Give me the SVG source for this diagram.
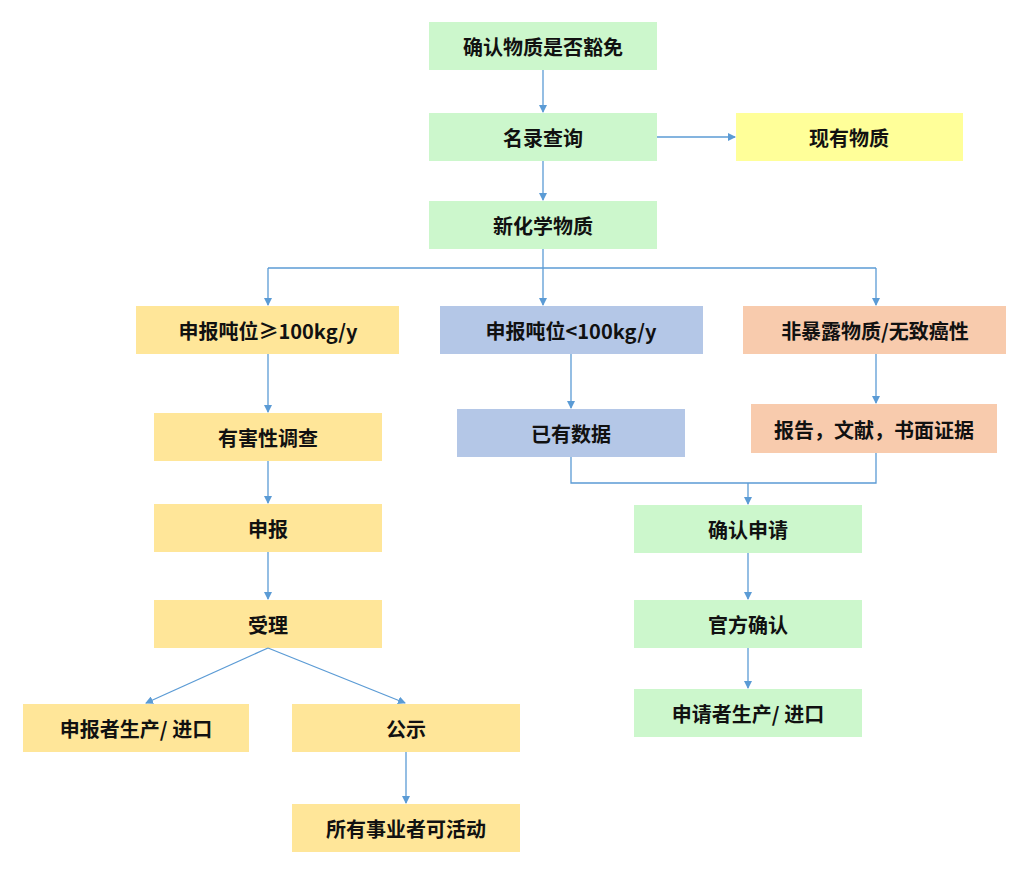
<svg xmlns="http://www.w3.org/2000/svg" width="1024" height="878" viewBox="0 0 1024 878">
<style>
text{font-family:"Noto Sans CJK SC","Noto Sans",sans-serif;font-size:20px;font-weight:bold;fill:#111;text-anchor:middle;dominant-baseline:central}
.g{fill:#ccf7cc}.y{fill:#ffff99}.o{fill:#ffe699}.b{fill:#b4c7e7}.p{fill:#f8cbad}
.c path{fill:none;stroke:#5b9bd5;stroke-width:1.3}
</style>
<defs><marker id="a" markerWidth="8" markerHeight="8" refX="7" refY="4" orient="auto" markerUnits="userSpaceOnUse"><path d="M0,0L8,4L0,8z" fill="#5b9bd5"/></marker></defs>
<rect width="1024" height="878" fill="#fff"/>
<g id="n1"><rect class="g" x="429" y="22" width="228" height="48"/><text x="543" y="46">确认物质是否豁免</text></g>
<g id="n2"><rect class="g" x="429" y="113" width="228" height="48"/><text x="543" y="137">名录查询</text></g>
<g id="n3"><rect class="y" x="736" y="113" width="227" height="48"/><text x="849" y="137">现有物质</text></g>
<g id="n4"><rect class="g" x="429" y="201" width="228" height="48"/><text x="543" y="225">新化学物质</text></g>
<g id="n5"><rect class="o" x="136" y="306" width="263" height="48"/><text x="268" y="330">申报吨位≥100kg/y</text></g>
<g id="n6"><rect class="b" x="440" y="306" width="263" height="48"/><text x="571" y="330">申报吨位&lt;100kg/y</text></g>
<g id="n7"><rect class="p" x="743" y="306" width="263" height="48"/><text x="875" y="330">非暴露物质/无致癌性</text></g>
<g id="n8"><rect class="o" x="154" y="413" width="228" height="48"/><text x="268" y="437">有害性调查</text></g>
<g id="n9"><rect class="b" x="457" y="409" width="228" height="48"/><text x="571" y="433">已有数据</text></g>
<g id="n10"><rect class="p" x="751" y="404" width="246" height="49"/><text x="874" y="429">报告，文献，书面证据</text></g>
<g id="n11"><rect class="o" x="154" y="504" width="228" height="48"/><text x="268" y="528">申报</text></g>
<g id="n12"><rect class="g" x="634" y="505" width="228" height="48"/><text x="748" y="529">确认申请</text></g>
<g id="n13"><rect class="o" x="154" y="600" width="228" height="48"/><text x="268" y="624">受理</text></g>
<g id="n14"><rect class="g" x="634" y="600" width="228" height="48"/><text x="748" y="624">官方确认</text></g>
<g id="n15"><rect class="o" x="23" y="704" width="226" height="48"/><text x="136" y="728">申报者生产/ 进口</text></g>
<g id="n16"><rect class="o" x="292" y="704" width="228" height="48"/><text x="406" y="728">公示</text></g>
<g id="n17"><rect class="g" x="634" y="689" width="228" height="48"/><text x="748" y="713">申请者生产/ 进口</text></g>
<g id="n18"><rect class="o" x="292" y="804" width="228" height="48"/><text x="406" y="828">所有事业者可活动</text></g>
<g class="c" id="connectors">
<path d="M543,70V112" marker-end="url(#a)"/>
<path d="M657,137H735" marker-end="url(#a)"/>
<path d="M543,161V200" marker-end="url(#a)"/>
<path d="M543,249V268"/>
<path d="M268,268H876"/>
<path d="M268,268V305" marker-end="url(#a)"/>
<path d="M543,268V305" marker-end="url(#a)"/>
<path d="M876,268V305" marker-end="url(#a)"/>
<path d="M268,354V412" marker-end="url(#a)"/>
<path d="M571,354V408" marker-end="url(#a)"/>
<path d="M876,354V403" marker-end="url(#a)"/>
<path d="M571,457V483H876V453"/>
<path d="M748,483V504" marker-end="url(#a)"/>
<path d="M268,461V503" marker-end="url(#a)"/>
<path d="M268,552V599" marker-end="url(#a)"/>
<path d="M268,648L146,703" marker-end="url(#a)"/>
<path d="M268,648L405,703" marker-end="url(#a)"/>
<path d="M406,752V803" marker-end="url(#a)"/>
<path d="M748,553V599" marker-end="url(#a)"/>
<path d="M748,648V688" marker-end="url(#a)"/>
</g>
</svg>
